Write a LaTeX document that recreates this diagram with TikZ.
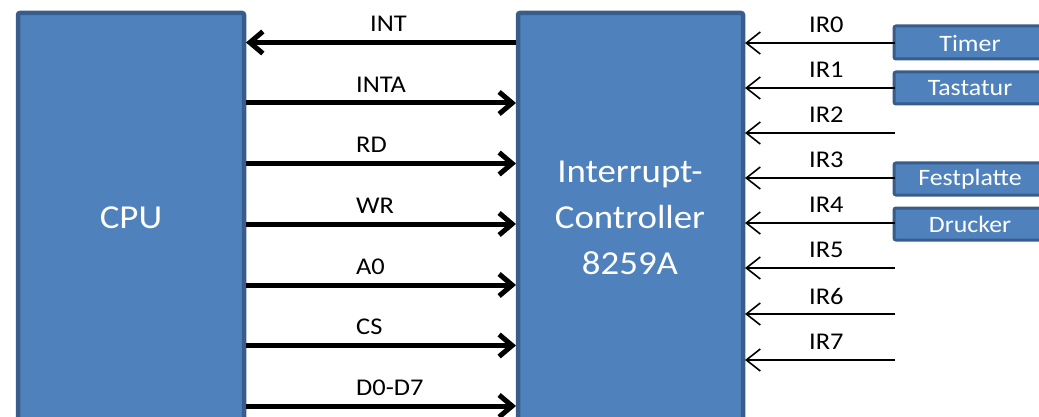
\documentclass[tikz,border=0pt]{standalone}
\usepackage{fontspec}
\setmainfont{Carlito}[FakeStretch=1.1]
\usetikzlibrary{arrows.meta}
\definecolor{boxfill}{HTML}{4F81BD}
\definecolor{boxline}{HTML}{385D8A}
\tikzset{
  block/.style={draw=boxline, line width=4.5pt, fill=boxfill, rounded corners=2pt},
  device/.style={draw=boxline, line width=3pt, fill=boxfill, rounded corners=2pt},
  bus/.style={line width=5pt, -{Straight Barb[length=13pt,width=22pt,line width=5pt]}},
  irq/.style={line width=2pt, -{Straight Barb[length=14pt,width=22pt,line width=1.6pt]}},
  sig/.style={font=\fontsize{24}{26}\selectfont, inner sep=0pt, anchor=west},
  big/.style={text=white, font=\fontsize{33.5}{46}\selectfont, align=center},
  devtext/.style={text=white, font=\fontsize{23.5}{25}\selectfont}
}
\begin{document}
\begin{tikzpicture}[x=1pt,y=-1pt]
\useasboundingbox (0,0) rectangle (1039,417);
\clip (0,0) rectangle (1039,417);

% main blocks, running past the lower edge
\draw[block] (18,13) rectangle (244,440);
\draw[block] (518,13) rectangle (743,440);
\node[big] (cpu) at (131,218) {CPU};
\node[big] (pic) at (630,218) {Interrupt-\\Controller\\8259A};

% named ends of the bus lines on both blocks
\foreach \n/\y in {int/42.5,inta/103,rd/163.5,wr/224,azero/285,cs/345.5,data/406}{
  \coordinate (c-\n) at (246,\y);
  \coordinate (p-\n) at (516,\y);
}
\draw[bus] (p-int) -- (c-int);
\foreach \n in {inta,rd,wr,azero,cs,data}{
  \draw[bus] (c-\n) -- (p-\n);
}
\node[sig] (l-int)   at (370,24)  {INT};
\node[sig] (l-inta)  at (356,85)  {INTA};
\node[sig] (l-rd)    at (356,145) {RD};
\node[sig] (l-wr)    at (356,206) {WR};
\node[sig] (l-azero) at (356,267) {A0};
\node[sig] (l-cs)    at (356,327) {CS};
\node[sig] (l-data)  at (356,388) {D0-D7};

% peripheral devices
\draw[device] (894,26) rectangle (1050,59);
\draw[device] (894,72) rectangle (1050,104);
\draw[device] (894,163) rectangle (1050,195);
\draw[device] (894,208) rectangle (1050,240);
\node[devtext] (timer) at (970,43)  {Timer};
\node[devtext] (kbd)   at (970,88)  {Tastatur};
\node[devtext] (hdd)   at (970,179) {Festplatte};
\node[devtext] (prn)   at (970,224) {Drucker};

% interrupt request lines
\foreach \i/\y in {0/43,1/88,2/133,3/178,4/223,5/268,6/314,7/360}{
  \coordinate (ir\i-src) at (895,\y);
  \coordinate (ir\i-dst) at (745,\y);
  \draw[irq] (ir\i-src) -- (ir\i-dst);
  \node[sig] (ir\i-lbl) at (809,\y-18) {IR\i};
}
\end{tikzpicture}
\end{document}
